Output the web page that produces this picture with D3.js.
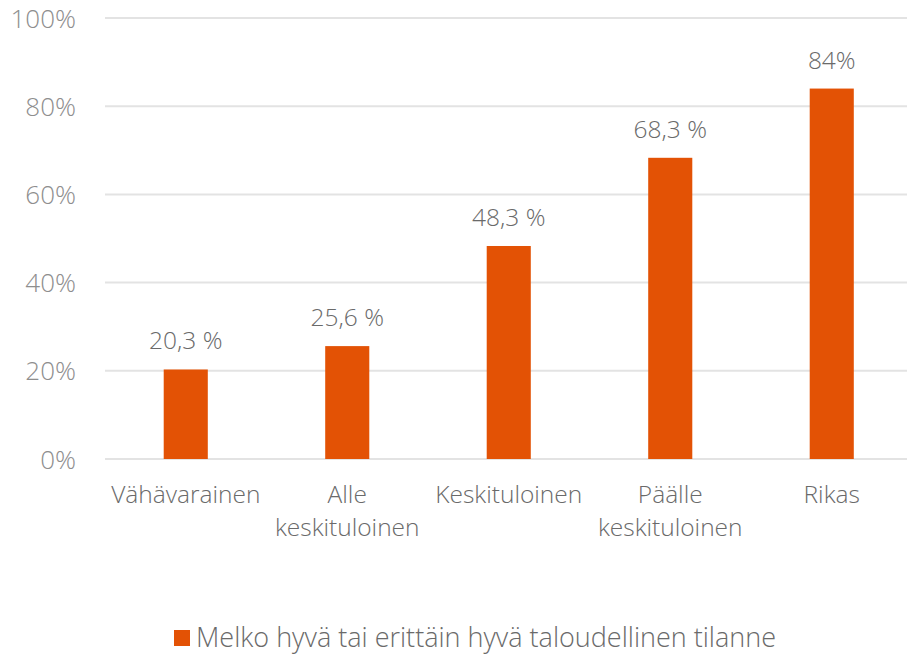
<!DOCTYPE html>
<html>
<head>
<meta charset="utf-8">
<script src="https://cdn.jsdelivr.net/npm/d3@7"></script>
<style>
  body { margin: 0; background: #fff; }
  svg text { font-family: "Open Sans", Roboto, sans-serif; font-weight: 300; }
</style>
</head>
<body>
<svg id="chart" width="907" height="655"></svg>
<script>
// data
const categories = ["Vähävarainen", "Alle\nkeskituloinen", "Keskituloinen", "Päälle\nkeskituloinen", "Rikas"];
const values = [20.3, 25.6, 48.3, 68.3, 84];
const valueLabels = ["20,3 %", "25,6 %", "48,3 %", "68,3 %", "84%"];
const yTicks = [0, 20, 40, 60, 80, 100];
const seriesName = "Melko hyvä tai erittäin hyvä taloudellinen tilanne";

const BAR_COLOR = "#e35205";
const svg = d3.select("#chart");

const x = d3.scaleBand()
  .domain(categories)
  .range([105, 912.5])
  .padding(0);

const y = d3.scaleLinear()
  .domain([0, 100])
  .range([459, 18]);

const barW = x.bandwidth() * 0.273;

// gridlines
svg.append("g")
  .selectAll("line")
  .data(yTicks)
  .join("line")
  .attr("x1", 105)
  .attr("x2", 907)
  .attr("y1", (d) => y(d))
  .attr("y2", (d) => y(d))
  .attr("stroke", "#e3e3e3")
  .attr("stroke-width", 2);

// y tick labels
svg.append("g")
  .selectAll("text")
  .data(yTicks)
  .join("text")
  .attr("x", 76)
  .attr("y", (d) => y(d) + 9.5)
  .attr("text-anchor", "end")
  .attr("fill", "#8e8e8e")
  .style("font-size", "26px")
  .text((d) => d + "%");

// bars
svg.append("g")
  .selectAll("rect")
  .data(values)
  .join("rect")
  .attr("x", (d, i) => x(categories[i]) + x.bandwidth() / 2 - barW / 2)
  .attr("y", (d) => y(d))
  .attr("width", barW)
  .attr("height", (d) => y(0) - y(d))
  .attr("fill", BAR_COLOR);

// value labels
svg.append("g")
  .selectAll("text")
  .data(values)
  .join("text")
  .attr("x", (d, i) => x(categories[i]) + x.bandwidth() / 2)
  .attr("y", (d) => y(d) - 20)
  .attr("text-anchor", "middle")
  .attr("fill", "#6a6a6a")
  .style("font-size", "24.5px")
  .text((d, i) => valueLabels[i]);

// category labels
const catG = svg.append("g")
  .selectAll("text")
  .data(categories)
  .join("text")
  .attr("x", (d) => x(d) + x.bandwidth() / 2)
  .attr("y", 503)
  .attr("text-anchor", "middle")
  .attr("fill", "#6a6a6a")
  .style("font-size", "24.5px");

catG.selectAll("tspan")
  .data((d) => d.split("\n").map((t) => ({ t: t, x: x(d) + x.bandwidth() / 2 })))
  .join("tspan")
  .attr("x", (d) => d.x)
  .attr("dy", (d, i) => i === 0 ? 0 : 33)
  .text((d) => d.t);

// legend
const legend = svg.append("g");
legend.append("rect")
  .attr("x", 174)
  .attr("y", 630)
  .attr("width", 16)
  .attr("height", 16)
  .attr("fill", BAR_COLOR);
legend.append("text")
  .attr("x", 196)
  .attr("y", 647)
  .attr("fill", "#6a6a6a")
  .style("font-size", "27px")
  .text(seriesName);
</script>
</body>
</html>
